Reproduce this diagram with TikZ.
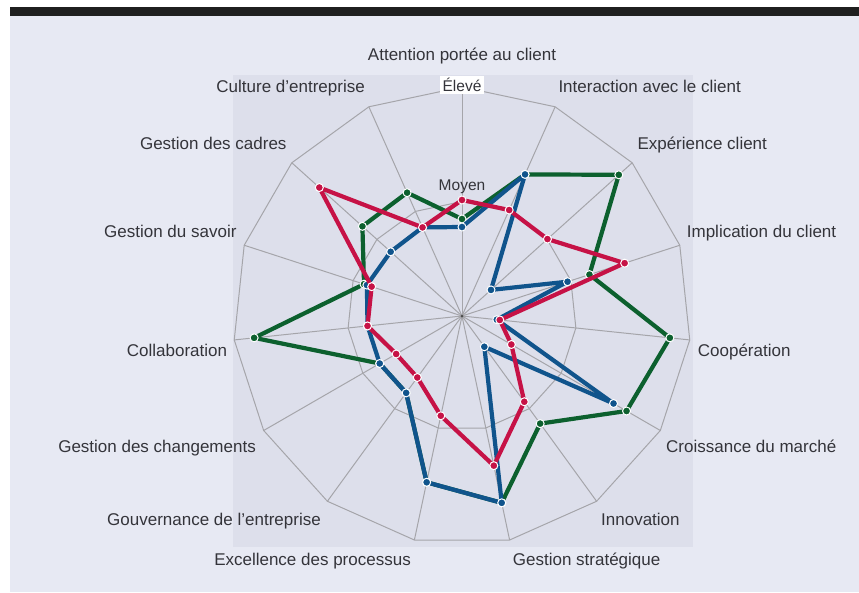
\documentclass[tikz,border=0pt]{standalone}
\usepackage{fontspec}
\setmainfont{Liberation Sans}

\definecolor{fondclair}{RGB}{231,233,243}
\definecolor{fondgris}{RGB}{221,223,235}
\definecolor{grille}{RGB}{165,165,170}
\definecolor{vert}{RGB}{12,96,46}
\definecolor{bleu}{RGB}{16,84,140}
\definecolor{rouge}{RGB}{198,18,70}
\definecolor{texte}{RGB}{52,52,58}

\tikzset{
  gridline/.style={draw=grille, line width=1pt},
  serie/.style={line width=4.2pt, line join=round},
  point/.style={circle, inner sep=0pt, minimum size=8pt, draw=white, line width=1pt},
  axelabel/.style={font=\fontsize{17}{20}\selectfont, text=texte, inner sep=0pt},
  niveau/.style={font=\fontsize{15.5}{18}\selectfont, text=texte, inner sep=2.5pt}
}

\begin{document}
\begin{tikzpicture}[x=1pt, y=1pt]
% Set the chart dimensions
\def\rmax{229} % outer ring = Eleve
\def\rmid{114.5} % inner ring = Moyen

% Background and top bar
\useasboundingbox (-462,-276) rectangle (397,316);
\fill[white] (-462,-276) rectangle (397,316);
\fill[fondclair] (-452,-276) rectangle (397,300);
\fill[black!88] (-452,300) rectangle (397,309);
\fill[fondgris] (-229,-231) rectangle (231,241);

% Grid rings
\draw[gridline] (90:\rmax) -- (66:\rmax) -- (42:\rmax) -- (18:\rmax) -- (-6:\rmax) -- (-30:\rmax) -- (-54:\rmax) -- (-78:\rmax) -- (-102:\rmax) -- (-126:\rmax) -- (-150:\rmax) -- (-174:\rmax) -- (162:\rmax) -- (138:\rmax) -- (114:\rmax) -- cycle;
\draw[gridline] (90:\rmid) -- (66:\rmid) -- (42:\rmid) -- (18:\rmid) -- (-6:\rmid) -- (-30:\rmid) -- (-54:\rmid) -- (-78:\rmid) -- (-102:\rmid) -- (-126:\rmid) -- (-150:\rmid) -- (-174:\rmid) -- (162:\rmid) -- (138:\rmid) -- (114:\rmid) -- cycle;

% Axes
\coordinate (c) at (0,0);
\draw[gridline] (c) -- (90:\rmax);
\draw[gridline] (c) -- (66:\rmax);
\draw[gridline] (c) -- (42:\rmax);
\draw[gridline] (c) -- (18:\rmax);
\draw[gridline] (c) -- (-6:\rmax);
\draw[gridline] (c) -- (-30:\rmax);
\draw[gridline] (c) -- (-54:\rmax);
\draw[gridline] (c) -- (-78:\rmax);
\draw[gridline] (c) -- (-102:\rmax);
\draw[gridline] (c) -- (-126:\rmax);
\draw[gridline] (c) -- (-150:\rmax);
\draw[gridline] (c) -- (-174:\rmax);
\draw[gridline] (c) -- (162:\rmax);
\draw[gridline] (c) -- (138:\rmax);
\draw[gridline] (c) -- (114:\rmax);
\fill[black!70] (c) circle (1.5pt);

% Level labels
\node[niveau, fill=white] (eleve) at (0,231) {Élevé};
\node[niveau] (moyen) at (0,129) {Moyen};

% Green series
\draw[serie, draw=vert] (90:97) coordinate (v0) -- (66:155) coordinate (v1) -- (42:211) coordinate (v2) -- (18:134) coordinate (v3) -- (-6:209) coordinate (v4) -- (-30:190) coordinate (v5) -- (-54:133) coordinate (v6) -- (-78:191) coordinate (v7) -- (-102:170) coordinate (v8) -- (-126:95) coordinate (v9) -- (-150:95) coordinate (v10) -- (-174:209) coordinate (v11) -- (162:103) coordinate (v12) -- (138:134) coordinate (v13) -- (114:135) coordinate (v14) -- cycle;
\node[point, fill=vert] (pv0) at (v0) {};
\node[point, fill=vert] (pv1) at (v1) {};
\node[point, fill=vert] (pv2) at (v2) {};
\node[point, fill=vert] (pv3) at (v3) {};
\node[point, fill=vert] (pv4) at (v4) {};
\node[point, fill=vert] (pv5) at (v5) {};
\node[point, fill=vert] (pv6) at (v6) {};
\node[point, fill=vert] (pv7) at (v7) {};
\node[point, fill=vert] (pv8) at (v8) {};
\node[point, fill=vert] (pv9) at (v9) {};
\node[point, fill=vert] (pv10) at (v10) {};
\node[point, fill=vert] (pv11) at (v11) {};
\node[point, fill=vert] (pv12) at (v12) {};
\node[point, fill=vert] (pv13) at (v13) {};
\node[point, fill=vert] (pv14) at (v14) {};

% Blue series
\draw[serie, draw=bleu] (90:89) coordinate (b0) -- (66:155) coordinate (b1) -- (42:39) coordinate (b2) -- (18:111) coordinate (b3) -- (-6:35) coordinate (b4) -- (-30:175) coordinate (b5) -- (-54:38) coordinate (b6) -- (-78:191) coordinate (b7) -- (-102:170) coordinate (b8) -- (-126:95) coordinate (b9) -- (-150:95) coordinate (b10) -- (-174:95) coordinate (b11) -- (162:100) coordinate (b12) -- (138:96) coordinate (b13) -- (114:97) coordinate (b14) -- cycle;
\node[point, fill=bleu] (pb0) at (b0) {};
\node[point, fill=bleu] (pb1) at (b1) {};
\node[point, fill=bleu] (pb2) at (b2) {};
\node[point, fill=bleu] (pb3) at (b3) {};
\node[point, fill=bleu] (pb4) at (b4) {};
\node[point, fill=bleu] (pb5) at (b5) {};
\node[point, fill=bleu] (pb6) at (b6) {};
\node[point, fill=bleu] (pb7) at (b7) {};
\node[point, fill=bleu] (pb8) at (b8) {};
\node[point, fill=bleu] (pb9) at (b9) {};
\node[point, fill=bleu] (pb10) at (b10) {};
\node[point, fill=bleu] (pb11) at (b11) {};
\node[point, fill=bleu] (pb12) at (b12) {};
\node[point, fill=bleu] (pb13) at (b13) {};
\node[point, fill=bleu] (pb14) at (b14) {};

% Red series
\draw[serie, draw=rouge] (90:116) coordinate (r0) -- (66:116) coordinate (r1) -- (42:115) coordinate (r2) -- (18:171) coordinate (r3) -- (-6:38) coordinate (r4) -- (-30:57) coordinate (r5) -- (-54:106) coordinate (r6) -- (-78:153) coordinate (r7) -- (-102:102) coordinate (r8) -- (-126:76) coordinate (r9) -- (-150:76) coordinate (r10) -- (-174:95) coordinate (r11) -- (162:95) coordinate (r12) -- (138:192) coordinate (r13) -- (114:97) coordinate (r14) -- cycle;
\node[point, fill=rouge] (pr0) at (r0) {};
\node[point, fill=rouge] (pr1) at (r1) {};
\node[point, fill=rouge] (pr2) at (r2) {};
\node[point, fill=rouge] (pr3) at (r3) {};
\node[point, fill=rouge] (pr4) at (r4) {};
\node[point, fill=rouge] (pr5) at (r5) {};
\node[point, fill=rouge] (pr6) at (r6) {};
\node[point, fill=rouge] (pr7) at (r7) {};
\node[point, fill=rouge] (pr8) at (r8) {};
\node[point, fill=rouge] (pr9) at (r9) {};
\node[point, fill=rouge] (pr10) at (r10) {};
\node[point, fill=rouge] (pr11) at (r11) {};
\node[point, fill=rouge] (pr12) at (r12) {};
\node[point, fill=rouge] (pr13) at (r13) {};
\node[point, fill=rouge] (pr14) at (r14) {};

% Axis labels
\node[axelabel, anchor=base] (attention) at (0,255) {Attention portée au client};
\node[axelabel, anchor=base west] (interaction) at (96.3,223) {Interaction avec le client};
\node[axelabel, anchor=base west] (experience) at (175.3,166.7) {Expérience client};
\node[axelabel, anchor=base west] (implication) at (224.7,79) {Implication du client};
\node[axelabel, anchor=base west] (cooperation) at (235.7,-40.7) {Coopération};
\node[axelabel, anchor=base west] (croissance) at (204,-136) {Croissance du marché};
\node[axelabel, anchor=base west] (innovation) at (139,-209.3) {Innovation};
\node[axelabel, anchor=base west] (strategique) at (50.7,-249.3) {Gestion stratégique};
\node[axelabel, anchor=base east] (excellence) at (-51,-249.3) {Excellence des processus};
\node[axelabel, anchor=base east] (gouvernance) at (-141,-209.3) {Gouvernance de l'entreprise};
\node[axelabel, anchor=base east] (changements) at (-206,-136) {Gestion des changements};
\node[axelabel, anchor=base east] (collaboration) at (-234.7,-40.7) {Collaboration};
\node[axelabel, anchor=base east] (savoir) at (-225.3,79) {Gestion du savoir};
\node[axelabel, anchor=base east] (cadres) at (-175.3,166.7) {Gestion des cadres};
\node[axelabel, anchor=base east] (culture) at (-97,223) {Culture d'entreprise};
\end{tikzpicture}
\end{document}
